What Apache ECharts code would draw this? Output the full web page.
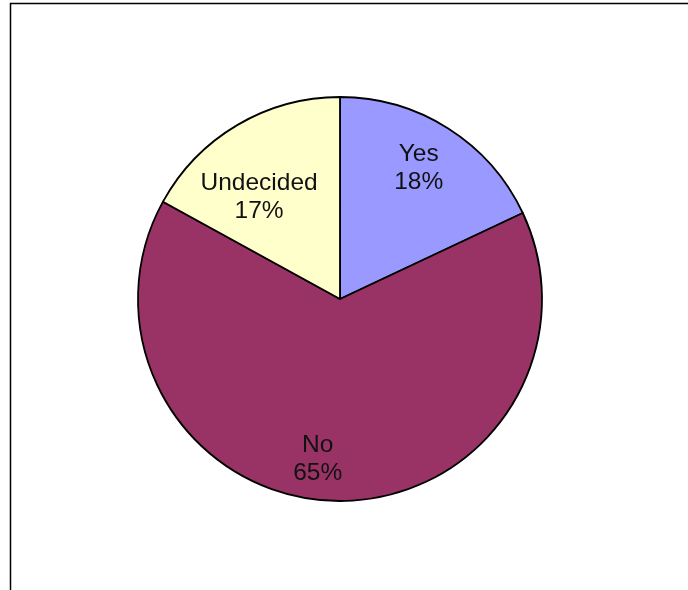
<!DOCTYPE html>
<html>
<head>
<meta charset="utf-8">
<style>
  html, body { margin: 0; padding: 0; background: #fff; }
  #chart { width: 688px; height: 590px; }
</style>
<script src="https://cdn.jsdelivr.net/npm/echarts@6/dist/echarts.min.js"></script>
</head>
<body>
<div id="chart"></div>
<script>
const categories = ['Yes', 'No', 'Undecided'];
const percentages = [18, 65, 17];
const sliceColors = ['#9999FF', '#993366', '#FFFFCC'];
const labelOffsets = [[23, -43], [-19, 56], [-28, -12]];

const chart = echarts.init(document.getElementById('chart'), null, { renderer: 'canvas' });

const data = categories.map((name, i) => ({
  name: name,
  value: percentages[i],
  itemStyle: { color: sliceColors[i] },
  label: { offset: labelOffsets[i] }
}));

chart.setOption({
  animation: false,
  backgroundColor: '#ffffff',
  graphic: [{
    type: 'rect',
    shape: { x: 10.5, y: 3.5, width: 720, height: 640 },
    style: { fill: 'none', stroke: '#000', lineWidth: 1.5 },
    silent: true
  }],
  series: [{
    type: 'pie',
    center: [340, 299],
    radius: [0, 202],
    startAngle: 90,
    clockwise: true,
    data: data,
    itemStyle: { borderColor: '#000', borderWidth: 1.8 },
    label: {
      show: true,
      position: 'inside',
      formatter: p => p.name + '\n' + p.value + '%',
      fontFamily: '"Liberation Sans", Arial, sans-serif',
      fontSize: 24.5,
      lineHeight: 28,
      color: '#111',
      align: 'center'
    },
    labelLine: { show: false },
    emphasis: { disabled: true }
  }]
});
</script>
</body>
</html>
